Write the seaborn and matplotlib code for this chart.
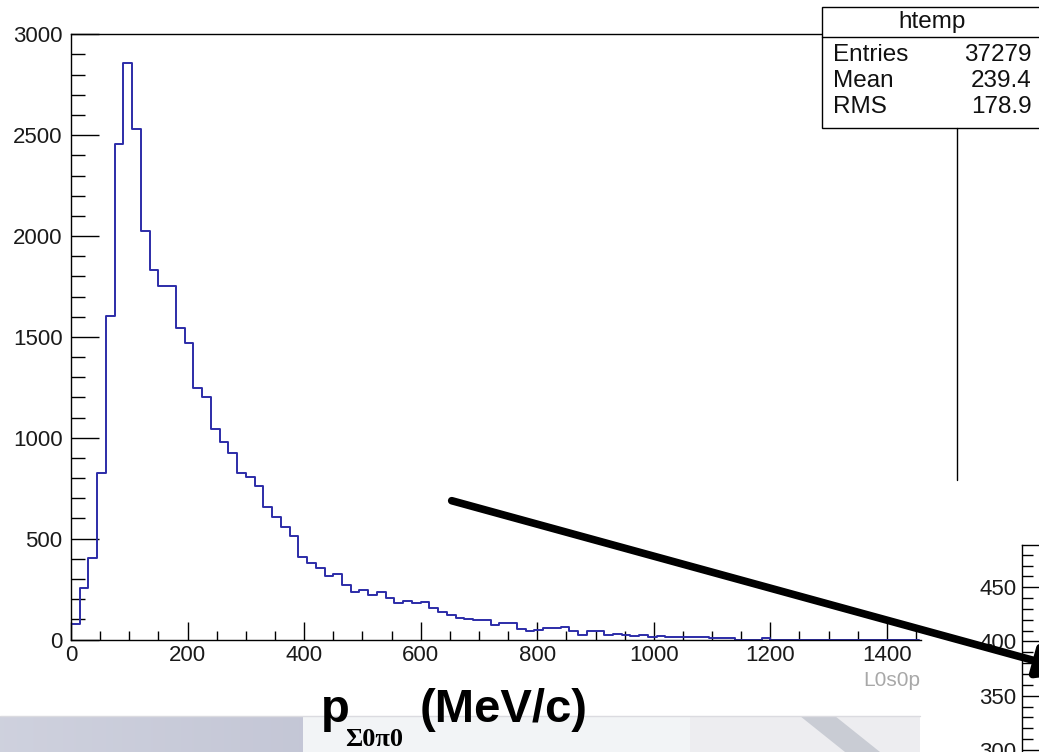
import numpy as np
import pandas as pd
import matplotlib
matplotlib.use("Agg")
import matplotlib.pyplot as plt
import seaborn as sns
from matplotlib.patches import Rectangle, Polygon, FancyArrowPatch
from matplotlib.lines import Line2D
from matplotlib.ticker import MultipleLocator

# ---------------- data ----------------
BIN_WIDTH = 15  # MeV/c
counts = [
    77, 254, 403, 824, 1606, 2454, 2857, 2533, 2026, 1832,
    1750, 1750, 1546, 1472, 1249, 1204, 1044, 979, 925, 824,
    807, 759, 657, 609, 560, 514, 410, 379, 356, 315,
    324, 268, 237, 245, 221, 237, 204, 181, 191, 182,
    184, 156, 138, 120, 108, 103, 97, 97, 70, 80,
    80, 54, 42, 47, 56, 56, 62, 41, 23, 42,
    42, 24, 29, 21, 18, 24, 14, 19, 14, 14,
    14, 11, 11, 6, 6, 6, 0, 0, 0, 6,
    0, 0, 0, 0, 0, 0, 0, 0, 0, 0,
    0, 0, 0, 0, 0, 0, 0,
]
x_major = [0, 200, 400, 600, 800, 1000, 1200, 1400]
y_major = [0, 500, 1000, 1500, 2000, 2500, 3000]
inset_major = [300, 350, 400, 450]
stats_title = "htemp"
stats_labels = ["Entries", "Mean", "RMS"]
stats_values = ["37279", "239.4", "178.9"]
var_name = "L0s0p"

# ---------------- figure ----------------
sns.set_theme(style="white")
plt.rcParams['font.family'] = ['Liberation Sans', 'DejaVu Sans']

W, H = 1039, 752
fig = plt.figure(figsize=(W / 100, H / 100), dpi=100)
fig.patch.set_facecolor("white")


def fx(x):
    return x / W


def fy(y):
    return 1 - y / H


# bottom slide background strip
strip = fig.add_axes([0, 0, 1, (752 - 716) / H], zorder=-5)
strip.set_axis_off()
grad = np.linspace(0, 1, 200)
left_col = np.array([0.81, 0.82, 0.87])
left_col2 = np.array([0.77, 0.78, 0.84])
img = np.ones((2, 200, 3))
for i, t in enumerate(grad):
    img[:, i, :] = left_col * (1 - t) + left_col2 * t
strip.imshow(img, extent=[0, 303, 752, 716], aspect='auto')
strip.add_patch(Rectangle((303, 716), 387, 36, facecolor=(0.95, 0.955, 0.965), edgecolor='none'))
strip.add_patch(Rectangle((690, 716), 230, 36, facecolor=(0.93, 0.93, 0.94), edgecolor='none'))
strip.add_patch(Polygon([[800, 716], [835, 716], [880, 752], [845, 752]], closed=True,
                        facecolor=(0.79, 0.80, 0.83), edgecolor='none'))
strip.set_xlim(0, W)
strip.set_ylim(752, 716)
fig.add_artist(Line2D([0, fx(920)], [fy(715.5)] * 2, color=(0.86, 0.86, 0.88), lw=1, zorder=-4))

# main histogram axes
ax = fig.add_axes([fx(71), fy(639.5), (920.7 - 71) / W, (639.5 - 34.3) / H])
n_bins = len(counts)
centers = (np.arange(n_bins) + 0.5) * BIN_WIDTH
df = pd.DataFrame({"p": centers, "n": counts})
sns.histplot(data=df, x="p", weights="n", binwidth=BIN_WIDTH, binrange=(0, n_bins * BIN_WIDTH),
             element="step", fill=False, color="#2c2ca8", linewidth=1.4, ax=ax)
ax.set_xlim(0, 1458)
ax.set_ylim(0, 3000)
ax.set_xlabel("")
ax.set_ylabel("")
ax.set_xticks(x_major)
ax.set_yticks(y_major)
ax.set_xticklabels([str(v) for v in x_major])
ax.set_yticklabels([str(v) for v in y_major])
ax.xaxis.set_minor_locator(MultipleLocator(50))
ax.yaxis.set_minor_locator(MultipleLocator(100))
ax.tick_params(axis='both', which='both', direction='in', bottom=True, left=True,
               top=False, right=False, colors='black', width=1.0,
               labelcolor='#1a1a1a', labelsize=16)
ax.tick_params(axis='x', which='major', length=13, pad=4)
ax.tick_params(axis='x', which='minor', length=6.5)
ax.tick_params(axis='y', which='major', length=20, pad=6)
ax.tick_params(axis='y', which='minor', length=10)
for s in ['left', 'bottom', 'top']:
    ax.spines[s].set_color('black')
    ax.spines[s].set_linewidth(1.0)
ax.spines['right'].set_visible(False)

# partially visible inset axes on the right
ax2 = fig.add_axes([fx(1021.7), fy(800), (1100 - 1021.7) / W, (800 - 545) / H])
ax2.set_ylim(253.8, 489.0)
ax2.set_xlim(0, 1)
ax2.set_xticks([])
ax2.set_yticks(inset_major)
ax2.set_yticklabels([str(v) for v in inset_major])
ax2.yaxis.set_minor_locator(MultipleLocator(10))
ax2.tick_params(axis='y', which='both', direction='in', left=True, colors='black',
                width=1.0, labelcolor='#1a1a1a', labelsize=16)
ax2.tick_params(axis='y', which='major', length=13, pad=4)
ax2.tick_params(axis='y', which='minor', length=8)
for s in ['left', 'top']:
    ax2.spines[s].set_color('black')
    ax2.spines[s].set_linewidth(1.0)
for s in ['right', 'bottom']:
    ax2.spines[s].set_visible(False)

# stats box
fig.add_artist(Rectangle((fx(822), fy(128.3)), (1060 - 822) / W, (128.3 - 7.3) / H,
                         transform=fig.transFigure, facecolor='white', edgecolor='black',
                         lw=1.0, zorder=5))
fig.add_artist(Line2D([fx(822), fx(1060)], [fy(37.3)] * 2, color='black', lw=1.0, zorder=6))
fig.add_artist(Line2D([fx(956.5)] * 2, [fy(128.3), fy(480)], color='black', lw=1.0, zorder=6))
fig.text(fx(932), fy(22), stats_title, ha='center', va='center', fontsize=17.5,
         color='#111111', zorder=7)
for i, (lab, val) in enumerate(zip(stats_labels, stats_values)):
    yy = 55 + i * 25.8
    fig.text(fx(833), fy(yy), lab, ha='left', va='center', fontsize=17.5, color='#111111', zorder=7)
    fig.text(fx(1032), fy(yy), val, ha='right', va='center', fontsize=17.5, color='#111111', zorder=7)

# variable name under the axis
fig.text(fx(920.5), fy(681), var_name, ha='right', va='center', fontsize=15, color='#a8a8a8')

# big slide label
fig.text(fx(321), fy(721.7), "p", fontsize=34, fontweight='bold', va='baseline', color='black', zorder=8)
fig.text(fx(345), fy(746.5), "\u03a30\u03c00", family=['Liberation Serif', 'DejaVu Serif'],
         fontweight='bold', fontsize=19, va='baseline', color='black', zorder=8)
fig.text(fx(420), fy(721.7), "(MeV/c)", fontsize=34, fontweight='bold', va='baseline',
         color='black', zorder=8)

# thick arrow
fig.add_artist(FancyArrowPatch((fx(451.7), fy(500.7)), (fx(1078), fy(672.6)),
                               transform=fig.transFigure,
                               arrowstyle='-|>,head_length=1.2,head_width=0.5',
                               mutation_scale=20, lw=5.5, color='black',
                               shrinkA=0, shrinkB=0, zorder=10))

fig.savefig("out.png", dpi=100, facecolor="white")
